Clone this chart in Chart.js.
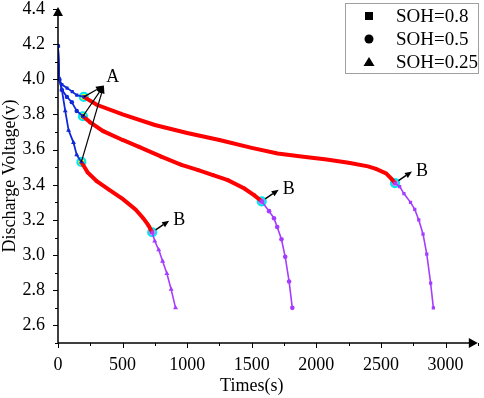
<!DOCTYPE html>
<html>
<head>
<meta charset="utf-8">
<script src="https://cdn.jsdelivr.net/npm/chart.js@4.4.1/dist/chart.umd.min.js"></script>
<style>
  html, body { margin: 0; padding: 0; background: #fff; }
</style>
</head>
<body>
<canvas id="dischargeChart" width="484" height="398"></canvas>
<script>
// SOH = 0.8 (square)
const sqBlueT = [0, 10, 30, 70, 110, 145, 200];
const sqBlueV = [4.19, 4.00, 3.97, 3.95, 3.93, 3.91, 3.90];
const sqRedT = [200, 300, 500, 750, 1000, 1250, 1500, 1700, 1900, 2080, 2250, 2400, 2462, 2540, 2580, 2609];
const sqRedV = [3.90, 3.855, 3.80, 3.74, 3.695, 3.655, 3.61, 3.578, 3.56, 3.544, 3.525, 3.505, 3.49, 3.465, 3.435, 3.41];
const sqPurpleT = [2609, 2645, 2678, 2729, 2762, 2793, 2826, 2855, 2885, 2906];
const sqPurpleV = [3.41, 3.39, 3.35, 3.30, 3.26, 3.20, 3.12, 3.005, 2.84, 2.70];

// SOH = 0.5 (circle)
const ciBlueT = [0, 10, 30, 69, 107, 145, 193];
const ciBlueV = [4.19, 4.00, 3.94, 3.90, 3.87, 3.82, 3.79];
const ciRedT = [193, 250, 350, 500, 627, 800, 950, 1086, 1200, 1315, 1443, 1520, 1577];
const ciRedV = [3.79, 3.755, 3.705, 3.655, 3.616, 3.56, 3.515, 3.483, 3.455, 3.426, 3.379, 3.34, 3.306];
const ciPurpleT = [1577, 1634, 1672, 1697, 1730, 1759, 1789, 1814];
const ciPurpleV = [3.306, 3.25, 3.21, 3.16, 3.09, 2.99, 2.85, 2.70];

// SOH = 0.25 (triangle)
const trBlueT = [0, 10, 30, 56, 82, 120, 145, 181];
const trBlueV = [4.19, 4.00, 3.94, 3.82, 3.71, 3.64, 3.57, 3.53];
const trRedT = [181, 230, 300, 400, 500, 600, 660, 700, 729];
const trRedV = [3.53, 3.47, 3.42, 3.37, 3.32, 3.26, 3.21, 3.17, 3.13];
const trPurpleT = [729, 749, 780, 810, 843, 876, 910];
const trPurpleV = [3.13, 3.08, 3.03, 2.965, 2.895, 2.805, 2.70];

const seriesNames = ['SOH=0.8', 'SOH=0.5', 'SOH=0.25'];
const seriesShapes = ['rect', 'circle', 'triangle'];
const xTicks = [0, 500, 1000, 1500, 2000, 2500, 3000];
const yTicks = [2.6, 2.8, 3.0, 3.2, 3.4, 3.6, 3.8, 4.0, 4.2, 4.4];
const aLabel = [355, 3.965];

const blue = '#1028d8';
const red = '#ff0000';
const purple = '#a53cff';
const cyan = '#00e8f0';
const serif = '"Liberation Serif", "Times New Roman", serif';

function pts(t, v) {
    return t.map((x, i) => ({ x: x, y: v[i] }));
}

function seg(t, v, color, shape, width, radius) {
    return {
        data: pts(t, v),
        borderColor: color,
        backgroundColor: color,
        pointBackgroundColor: color,
        pointBorderColor: color,
        pointBorderWidth: 0,
        borderWidth: width,
        pointStyle: shape,
        pointRadius: radius,
        pointHoverRadius: radius,
        tension: 0
    };
}

const aPoints = [
    { x: sqBlueT[sqBlueT.length - 1], y: sqBlueV[sqBlueV.length - 1] },
    { x: ciBlueT[ciBlueT.length - 1], y: ciBlueV[ciBlueV.length - 1] },
    { x: trBlueT[trBlueT.length - 1], y: trBlueV[trBlueV.length - 1] }
];
const bPoints = [
    { x: sqRedT[sqRedT.length - 1], y: sqRedV[sqRedV.length - 1] },
    { x: ciRedT[ciRedT.length - 1], y: ciRedV[ciRedV.length - 1] },
    { x: trRedT[trRedT.length - 1], y: trRedV[trRedV.length - 1] }
];

const datasets = [
    seg(sqBlueT, sqBlueV, blue, 'rect', 1.8, 2.2),
    seg(ciBlueT, ciBlueV, blue, 'circle', 1.8, 2.2),
    seg(trBlueT, trBlueV, blue, 'triangle', 1.8, 2.8),
    seg(sqPurpleT, sqPurpleV, purple, 'rect', 1.6, 2.3),
    seg(ciPurpleT, ciPurpleV, purple, 'circle', 1.6, 2.3),
    seg(trPurpleT, trPurpleV, purple, 'triangle', 1.6, 2.9),
    seg(sqRedT, sqRedV, red, 'rect', 4, 2),
    seg(ciRedT, ciRedV, red, 'circle', 4, 2),
    seg(trRedT, trRedV, red, 'triangle', 4, 2.4),
    {
        data: aPoints, showLine: false, pointStyle: 'circle',
        pointRadius: 4, pointBorderWidth: 2.2,
        pointBackgroundColor: '#ffff00', pointBorderColor: cyan
    },
    {
        data: bPoints, showLine: false, pointStyle: 'circle',
        pointRadius: 4, pointBorderWidth: 2.2,
        pointBackgroundColor: '#ff70ff', pointBorderColor: cyan
    }
];

function arrow(ctx, x1, y1, x2, y2, len, half) {
    const ang = Math.atan2(y2 - y1, x2 - x1);
    const bx = x2 - len * Math.cos(ang);
    const by = y2 - len * Math.sin(ang);
    ctx.beginPath();
    ctx.moveTo(x1, y1);
    ctx.lineTo(bx, by);
    ctx.stroke();
    ctx.beginPath();
    ctx.moveTo(x2, y2);
    ctx.lineTo(bx + half * Math.sin(ang), by - half * Math.cos(ang));
    ctx.lineTo(bx - half * Math.sin(ang), by + half * Math.cos(ang));
    ctx.closePath();
    ctx.fill();
}

function marker(ctx, shape, x, y) {
    ctx.beginPath();
    if (shape === 'rect') {
        ctx.rect(x - 4, y - 4, 8, 8);
    } else if (shape === 'circle') {
        ctx.arc(x, y, 4.5, 0, Math.PI * 2);
    } else {
        ctx.moveTo(x, y - 5);
        ctx.lineTo(x + 5.5, y + 4);
        ctx.lineTo(x - 5.5, y + 4);
        ctx.closePath();
    }
    ctx.fill();
}

const decorPlugin = {
    id: 'decor',
    afterDraw(chart) {
        const ctx = chart.ctx;
        const xs = chart.scales.x;
        const ys = chart.scales.y;
        const a = chart.chartArea;
        ctx.save();
        ctx.strokeStyle = '#000';
        ctx.fillStyle = '#000';
        ctx.lineWidth = 1.5;

        // axes lines and arrows
        ctx.beginPath();
        ctx.moveTo(a.left, a.bottom);
        ctx.lineTo(a.left, a.top + 4);
        ctx.moveTo(a.left, a.bottom);
        ctx.lineTo(a.right - 4, a.bottom);
        ctx.stroke();
        ctx.beginPath();
        ctx.moveTo(a.left, a.top - 2);
        ctx.lineTo(a.left + 5, a.top + 7);
        ctx.lineTo(a.left - 5, a.top + 7);
        ctx.closePath();
        ctx.fill();
        ctx.beginPath();
        ctx.moveTo(a.right, a.bottom);
        ctx.lineTo(a.right - 9, a.bottom - 5);
        ctx.lineTo(a.right - 9, a.bottom + 5);
        ctx.closePath();
        ctx.fill();

        // ticks
        ctx.lineWidth = 1;
        ctx.beginPath();
        xTicks.forEach(v => {
            const px = Math.round(xs.getPixelForValue(v)) + 0.5;
            ctx.moveTo(px, a.bottom);
            ctx.lineTo(px, a.bottom + 5);
            const mx = Math.round(xs.getPixelForValue(v + 250)) + 0.5;
            ctx.moveTo(mx, a.bottom);
            ctx.lineTo(mx, a.bottom + 3);
        });
        yTicks.forEach(v => {
            const py = Math.round(ys.getPixelForValue(v)) + 0.5;
            ctx.moveTo(a.left, py);
            ctx.lineTo(a.left - 5, py);
            const my = Math.round(ys.getPixelForValue(v - 0.1)) + 0.5;
            ctx.moveTo(a.left, my);
            ctx.lineTo(a.left - 3, my);
        });
        ctx.stroke();

        // axis titles
        ctx.font = '18px ' + serif;
        ctx.textAlign = 'center';
        ctx.textBaseline = 'middle';
        ctx.fillText('Times(s)', (xs.getPixelForValue(0) + xs.getPixelForValue(3000)) / 2, 386);
        ctx.save();
        ctx.translate(10, (a.top + a.bottom) / 2);
        ctx.rotate(-Math.PI / 2);
        ctx.fillText('Discharge Voltage(v)', 0, 0);
        ctx.restore();

        // A annotation
        const tipX = xs.getPixelForValue(aLabel[0]);
        const tipY = ys.getPixelForValue(aLabel[1]);
        ctx.lineWidth = 1.2;
        aPoints.forEach(p => {
            const px = xs.getPixelForValue(p.x);
            const py = ys.getPixelForValue(p.y);
            arrow(ctx, px, py, tipX, tipY, 8, 3);
        });
        ctx.fillText('A', tipX + 9, tipY - 8);

        // B annotations
        ctx.lineWidth = 1.5;
        bPoints.forEach(p => {
            const px = xs.getPixelForValue(p.x);
            const py = ys.getPixelForValue(p.y);
            arrow(ctx, px + 3.5, py - 2.5, px + 17, py - 11.5, 7, 3);
            ctx.fillText('B', px + 27, py - 12);
        });

        // legend
        ctx.strokeStyle = '#a0a0a0';
        ctx.lineWidth = 1;
        ctx.strokeRect(345.5, 3.5, 133, 70);
        ctx.fillStyle = '#000';
        ctx.textAlign = 'left';
        ctx.font = '19px ' + serif;
        seriesNames.forEach((name, i) => {
            const y = 16 + i * 23;
            marker(ctx, seriesShapes[i], 369, y);
            ctx.fillText(name, 396, y + 1);
        });
        ctx.restore();
    }
};

new Chart(document.getElementById('dischargeChart'), {
    type: 'line',
    data: { datasets: datasets },
    options: {
        responsive: false,
        animation: false,
        layout: { padding: { top: 9, right: 1, left: 0, bottom: 0 } },
        plugins: {
            legend: { display: false },
            tooltip: { enabled: false }
        },
        scales: {
            x: {
                type: 'linear',
                min: 0,
                max: 3250,
                afterBuildTicks: s => { s.ticks = xTicks.map(v => ({ value: v })); },
                afterFit: s => { s.height = 55; s.paddingLeft = 0; s.paddingRight = 0; },
                grid: { display: false, drawTicks: false },
                border: { display: false },
                ticks: {
                    color: '#000',
                    font: { family: serif, size: 18 },
                    padding: 11,
                    maxRotation: 0,
                    autoSkip: false,
                    callback: v => String(v)
                }
            },
            y: {
                min: 2.5,
                max: 4.4,
                afterBuildTicks: s => { s.ticks = yTicks.map(v => ({ value: v })); },
                afterFit: s => { s.width = 58; s.paddingTop = 0; s.paddingBottom = 0; },
                grid: { display: false, drawTicks: false },
                border: { display: false },
                ticks: {
                    color: '#000',
                    font: { family: serif, size: 18 },
                    padding: 13,
                    autoSkip: false,
                    callback: v => Number(v).toFixed(1)
                }
            }
        }
    },
    plugins: [decorPlugin]
});
</script>
</body>
</html>
